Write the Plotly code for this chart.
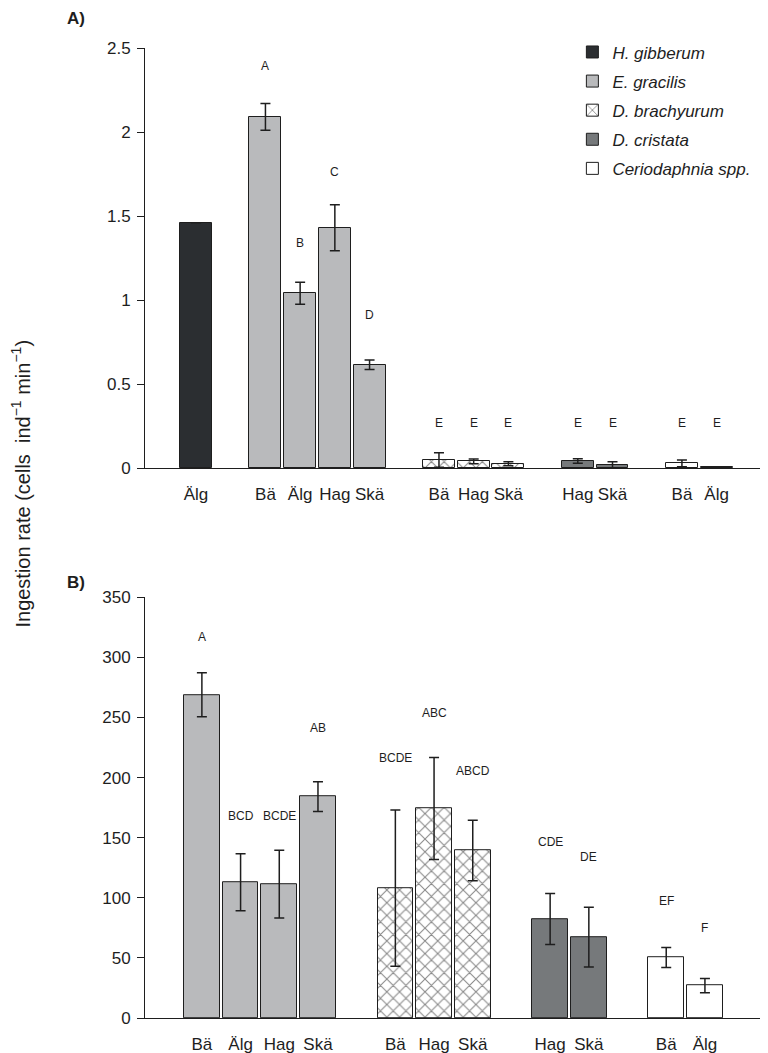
import plotly.graph_objects as go

# species, their colour and which sites were measured
species = ["H. gibberum", "E. gracilis", "D. brachyurum", "D. cristata", "Ceriodaphnia spp."]
colors = ["#2b2e31", "#b9babc", "#ffffff", "#76797b", "#ffffff"]

# panel A  (cells ind-1 min-1)
sites_a = [["Älg"], ["Bä", "Älg", "Hag", "Skä"], ["Bä", "Hag", "Skä"], ["Hag", "Skä"], ["Bä", "Älg"]]
mean_a = [[1.46], [2.09, 1.04, 1.43, 0.615], [0.048, 0.040, 0.025], [0.042, 0.017], [0.027, 0.004]]
err_a = [[0], [0.08, 0.065, 0.137, 0.028], [0.043, 0.014, 0.012], [0.013, 0.02], [0.02, 0]]
letters_a = [[""], ["A", "B", "C", "D"], ["E", "E", "E"], ["E", "E"], ["E", "E"]]
letter_y_a = [[0], [2.395, 1.337, 1.764, 0.911], [0.27, 0.27, 0.27], [0.27, 0.27], [0.27, 0.27]]

# panel B
sites_b = [[], ["Bä", "Älg", "Hag", "Skä"], ["Bä", "Hag", "Skä"], ["Hag", "Skä"], ["Bä", "Älg"]]
mean_b = [[], [268.8, 113, 111.4, 184.2], [108.1, 174.3, 139.3], [82.3, 67.3], [50.4, 26.9]]
err_b = [[], [18.3, 23.7, 28.2, 12.4], [65, 42.4, 25.2], [21.2, 24.9], [8.3, 6.0]]
letters_b = [[], ["A", "BCD", "BCDE", "AB"], ["BCDE", "ABC", "ABCD"], ["CDE", "DE"], ["EF", "F"]]
letter_y_b = [[], [316.7, 168.4, 168.4, 241], [216, 253.5, 205.6], [146, 134.3], [97, 74.8]]

font = "Arial, Liberation Sans, sans-serif"
ink = "#1e1e1e"


def slots(sites):
    # one empty slot between species groups
    xs, pos = [], 0
    for grp in sites:
        if not grp:
            xs.append([])
            continue
        xs.append(list(range(pos, pos + len(grp))))
        pos += len(grp) + 1
    return xs


fig = go.Figure()
annots = []

for panel, (sites, mean, err, letters, ly) in enumerate([
        (sites_a, mean_a, err_a, letters_a, letter_y_a),
        (sites_b, mean_b, err_b, letters_b, letter_y_b)]):
    xs = slots(sites)
    xa = "x" if panel == 0 else "x2"
    ya = "y" if panel == 0 else "y2"
    for i, sp in enumerate(species):
        if not xs[i]:
            continue
        pattern = dict(shape="x", fgcolor="#111111", bgcolor="white", size=9, solidity=0.22) \
            if sp == "D. brachyurum" else dict(shape="")
        fig.add_trace(go.Bar(
            x=xs[i], y=mean[i], name=sp, width=0.92, legendgroup=sp,
            xaxis=xa, yaxis=ya, showlegend=(panel == 0),
            marker=dict(color=colors[i], line=dict(color=ink, width=1), pattern=pattern),
            error_y=dict(type="data", array=err[i], visible=True, color=ink, thickness=1.5, width=5),
        ))
        for x, t, yv in zip(xs[i], letters[i], ly[i]):
            if t:
                annots.append(dict(x=x, y=yv, xref=xa, yref=ya, text=t, showarrow=False,
                                   font=dict(size=12, color=ink)))

xs_a = slots(sites_a)
xs_b = slots(sites_b)
tv_a = [x for g in xs_a for x in g]
tt_a = [s for g in sites_a for s in g]
tv_b = [x for g in xs_b for x in g]
tt_b = [s for g in sites_b for s in g]

axis_common = dict(showline=True, linecolor=ink, linewidth=1, showgrid=False, zeroline=False,
                   tickfont=dict(size=17, color=ink, family=font))

annots += [
    dict(x=-0.199, y=0.551, xref="paper", yref="paper", textangle=-90, showarrow=False,
         xanchor="center", yanchor="middle",
         text="Ingestion rate (cells  ind<sup>−1</sup> min<sup>−1</sup>)",
         font=dict(size=20, color=ink)),
    dict(x=-0.111, y=1.030, xref="paper", yref="paper", showarrow=False,
         xanchor="center", yanchor="middle",
         text="<b>A)</b>", font=dict(size=17, color=ink)),
    dict(x=-0.111, y=0.4485, xref="paper", yref="paper", showarrow=False,
         xanchor="center", yanchor="middle",
         text="<b>B)</b>", font=dict(size=17, color=ink)),
]

# page body adds an 8px offset, so the figure is 8px smaller than the window
fig.update_layout(
    width=760, height=1045,
    margin=dict(l=137, r=0, t=40, b=35),
    paper_bgcolor="white", plot_bgcolor="white",
    font=dict(family=font, color=ink),
    bargap=0,
    xaxis=dict(domain=[0, 1], anchor="y", range=[-1.47, 16.48], tickvals=tv_a, ticktext=tt_a,
               ticks="outside", ticklen=11, tickcolor="rgba(0,0,0,0)", **axis_common),
    yaxis=dict(domain=[0.567, 1], anchor="x", range=[0, 2.5],
               tickvals=[0, 0.5, 1, 1.5, 2, 2.5], ticktext=["0", "0.5", "1", "1.5", "2", "2.5"],
               ticks="outside", ticklen=7, tickcolor=ink, ticklabelstandoff=3, **axis_common),
    xaxis2=dict(domain=[0, 1], anchor="y2", range=[-1.47, 14.63], tickvals=tv_b, ticktext=tt_b,
                ticks="outside", ticklen=11, tickcolor="rgba(0,0,0,0)", **axis_common),
    yaxis2=dict(domain=[0, 0.4338], anchor="x2", range=[0, 350],
                tickvals=[0, 50, 100, 150, 200, 250, 300, 350],
                ticks="outside", ticklen=7, tickcolor=ink, ticklabelstandoff=3, **axis_common),
    legend=dict(x=0.686, y=1.014, xanchor="left", yanchor="top",
                traceorder="grouped", tracegroupgap=4,
                font=dict(size=17, color=ink, family=font, style="italic"),
                bgcolor="rgba(0,0,0,0)"),
    annotations=annots,
)

fig.write_html("out.html")
